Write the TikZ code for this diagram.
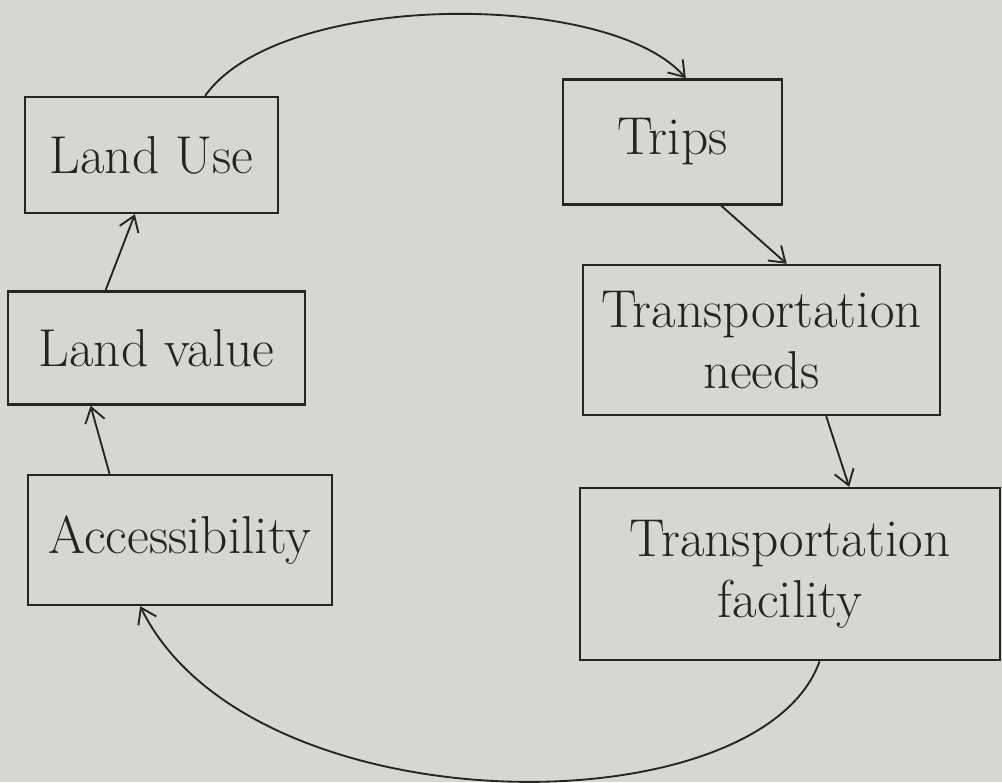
\documentclass[tikz,border=0pt]{standalone}
\usetikzlibrary{arrows.meta,calc}
\definecolor{paper}{RGB}{214,215,209}
\definecolor{ink}{RGB}{38,36,34}
\begin{document}
\begin{tikzpicture}[x=0.75pt,y=-0.75pt,
  box/.style={draw=ink,line width=1.8pt,rectangle,inner sep=0pt,text=ink,
    font=\fontsize{40}{46}\selectfont,align=center},
  link/.style={draw=ink,line width=1.4pt,-{Straight Barb[length=11pt,width=15pt,line width=1.4pt]}}]
% paper sheet
\fill[paper] (0,0) rectangle (1002,782);
\useasboundingbox (0,0) rectangle (1002,782);

% boxes
\node[box,minimum width=189.75pt,minimum height=87pt]   (landuse)  at (151.5,155) {Land Use};
\node[box,minimum width=164.25pt,minimum height=93.75pt](trips)    at (672.5,142) {Trips};
\node[box,minimum width=267.75pt,minimum height=112.5pt](needs)    at (761.5,340) {Transportation\\needs};
\node[box,minimum width=222.75pt,minimum height=84.75pt](landvalue)at (156.5,348) {Land value};
\node[box,minimum width=228pt,minimum height=97.5pt]    (access)   at (180,540)   {Accessibility};
\node[box,minimum width=315pt,minimum height=129pt]     (facility) at (790,574)   {Transportation\\facility};

% cycle connectors
\draw[link] ($(landuse.north west)!0.71!(landuse.north east)$)
  .. controls (280,-10) and (610,-10) .. ($(trips.north west)!0.56!(trips.north east)$);
\draw[link] ($(trips.south west)!0.72!(trips.south east)$) -- ($(needs.north west)!0.57!(needs.north east)$);
\draw[link] ($(needs.south west)!0.68!(needs.south east)$) -- ($(facility.north west)!0.64!(facility.north east)$);
\draw[link] ($(facility.south west)!0.57!(facility.south east)$)
  .. controls (760,830) and (250,830) .. ($(access.south west)!0.37!(access.south east)$);
\draw[link] ($(access.north west)!0.27!(access.north east)$) -- ($(landvalue.south west)!0.28!(landvalue.south east)$);
\draw[link] ($(landvalue.north west)!0.33!(landvalue.north east)$) -- ($(landuse.south west)!0.435!(landuse.south east)$);
\end{tikzpicture}
\end{document}
